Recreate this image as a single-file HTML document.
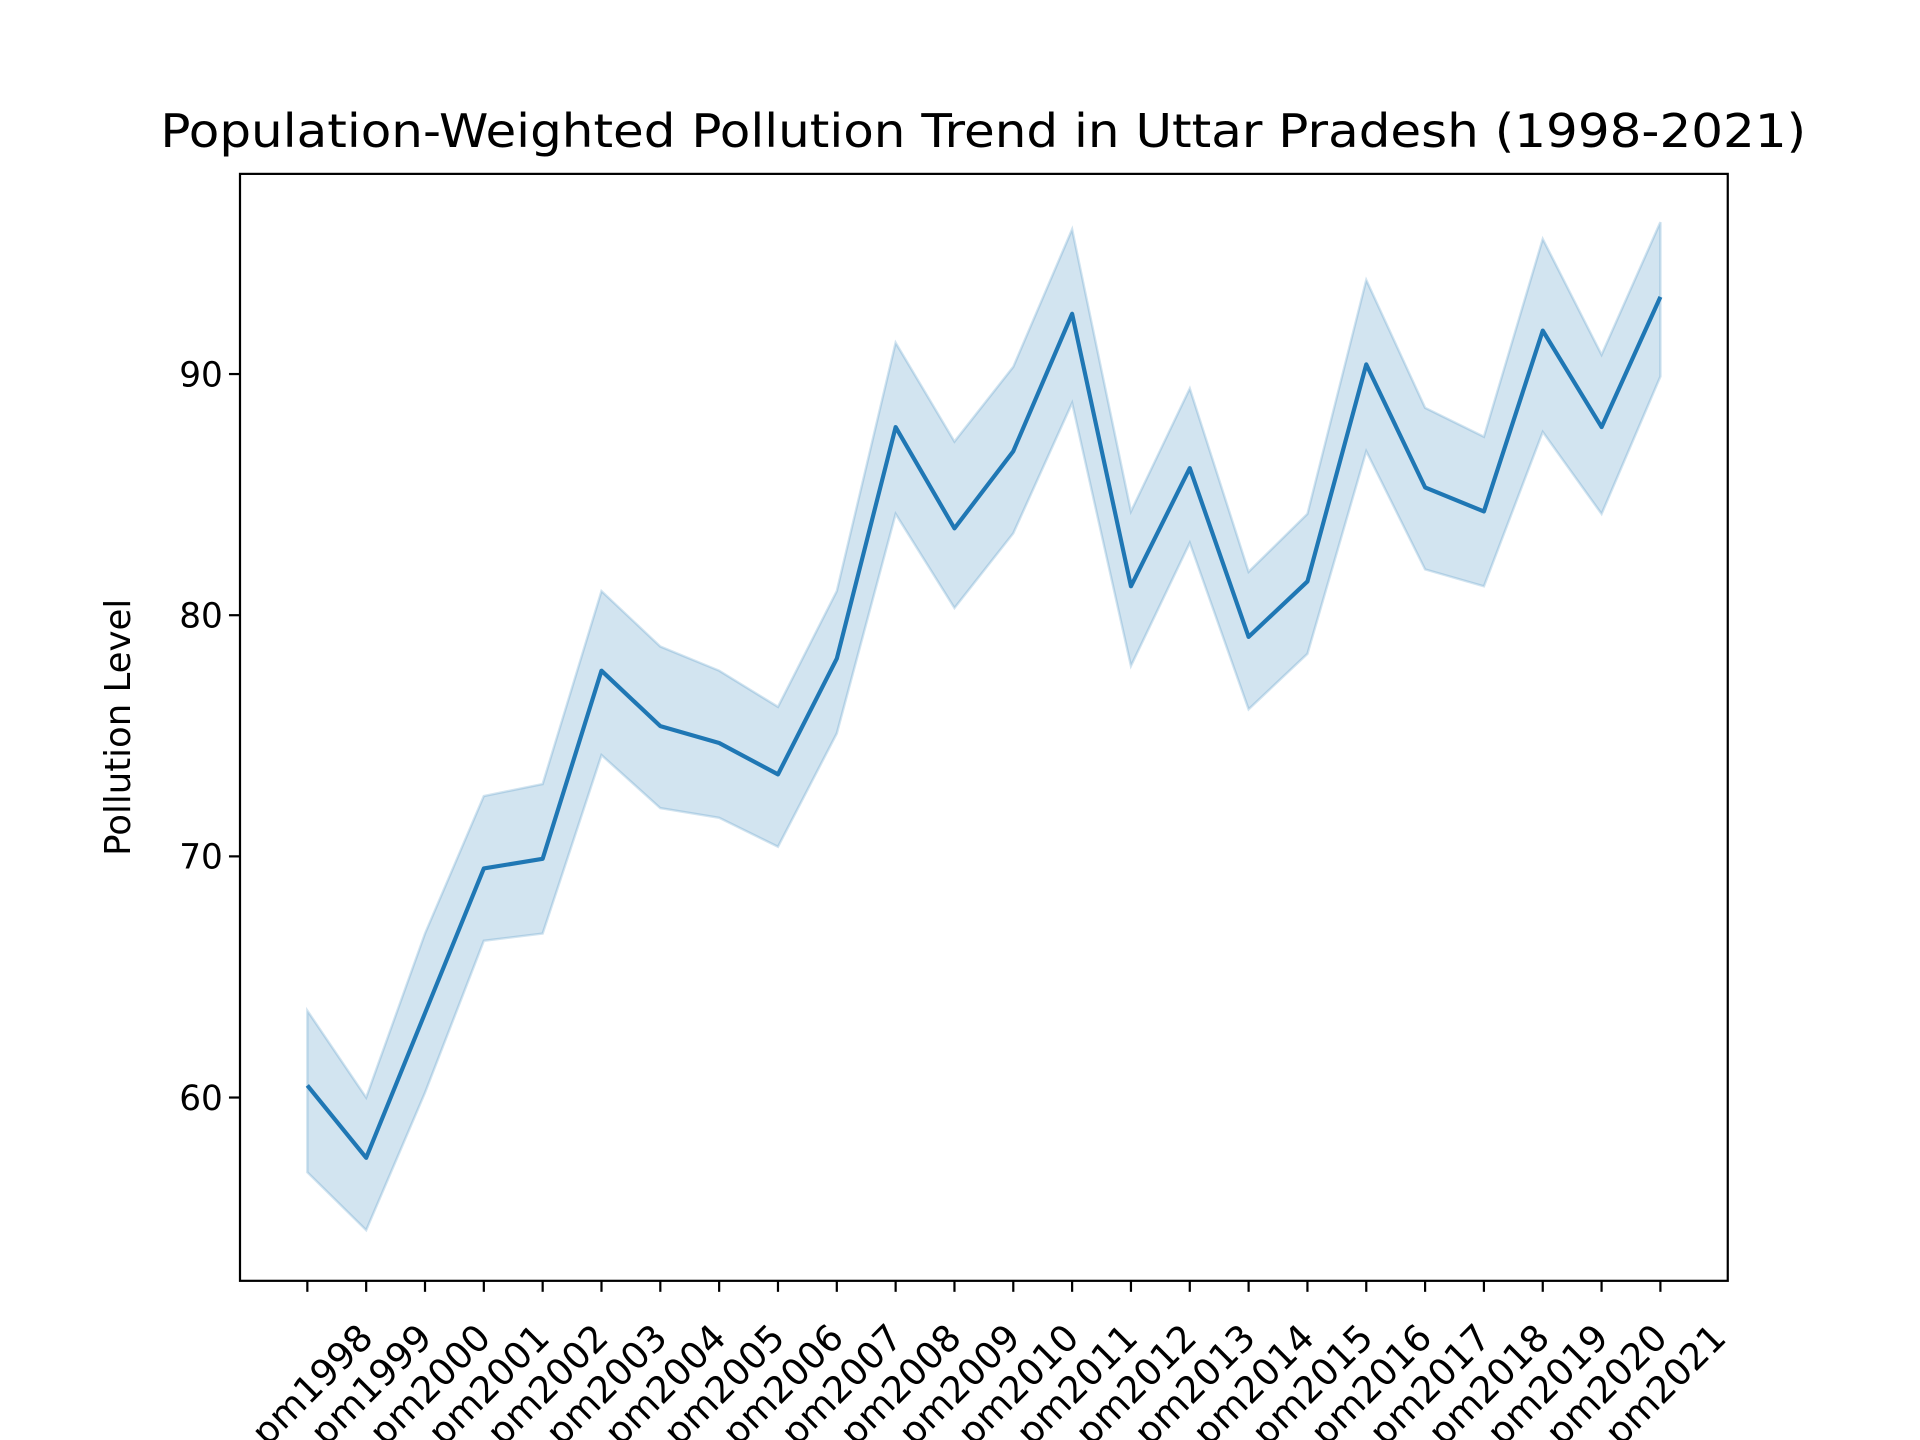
<!DOCTYPE html>
<html><head><meta charset="utf-8"><style>
html,body{margin:0;padding:0;background:#fff;}
svg{display:block;font-family:"DejaVu Sans","Liberation Sans",sans-serif;}
</style></head><body>
<svg id="chart" width="1920" height="1440" viewBox="0 0 1568 1176" preserveAspectRatio="none" xmlns="http://www.w3.org/2000/svg">
<rect width="1568" height="1176" fill="#fff"/>
<text x="803" y="120" font-size="37.5" text-anchor="middle" fill="#000" textLength="1344" lengthAdjust="spacingAndGlyphs">Population-Weighted Pollution Trend in Uttar Pradesh (1998-2021)</text>
<text x="0" y="0" font-size="29" text-anchor="middle" fill="#000" transform="translate(106,594) rotate(-90)">Pollution Level</text>
<g id="plot"></g>
</svg>
<script>
const categories = ["pm1998","pm1999","pm2000","pm2001","pm2002","pm2003","pm2004","pm2005","pm2006","pm2007","pm2008","pm2009","pm2010","pm2011","pm2012","pm2013","pm2014","pm2015","pm2016","pm2017","pm2018","pm2019","pm2020","pm2021"];
const meanValues = [60.5,57.5,63.5,69.5,69.9,77.7,75.4,74.7,73.4,78.2,87.8,83.6,86.8,92.5,81.2,86.1,79.1,81.4,90.4,85.3,84.3,91.8,87.8,93.2];
const upperValues = [63.6,60.0,66.8,72.5,73.0,81.0,78.7,77.7,76.2,81.0,91.3,87.2,90.3,96.0,84.3,89.4,81.8,84.2,93.9,88.6,87.4,95.6,90.8,96.3];
const lowerValues = [56.9,54.5,60.2,66.5,66.8,74.2,72.0,71.6,70.4,75.1,84.2,80.3,83.4,88.8,77.9,83.0,76.1,78.4,86.8,81.9,81.2,87.6,84.2,89.9];
const yTicks = [60,70,80,90];

const NS = "http://www.w3.org/2000/svg";
const L=196,R=1411,T=142,B=1046;
const yMin=52.4,yMax=98.3;
const x0=251,x1=1356;
function xs(i){return x0+(x1-x0)*i/(categories.length-1);}
function ys(v){return B-(v-yMin)/(yMax-yMin)*(B-T);}
const g=document.getElementById('plot');
function mk(tag,attrs){const e=document.createElementNS(NS,tag);for(const k in attrs)e.setAttribute(k,attrs[k]);g.appendChild(e);return e;}

let d="";
upperValues.forEach((v,i)=>{d+=(i?"L":"M")+xs(i)+","+ys(v);});
for(let i=lowerValues.length-1;i>=0;i--){d+="L"+xs(i)+","+ys(lowerValues[i]);}
d+="Z";
const band=mk('path',{d:d,fill:'#1f77b4','fill-opacity':0.2,stroke:'#1f77b4','stroke-opacity':0.2,'stroke-width':2});



const pts=meanValues.map((v,i)=>xs(i)+","+ys(v)).join(" ");
const line=mk('polyline',{points:pts,fill:'none',stroke:'#1f77b4','stroke-width':3.4,'stroke-linejoin':'round'});



const frame=mk('rect',{x:L,y:T,width:R-L,height:B-T,fill:'none',stroke:'#000','stroke-width':1.8});



yTicks.forEach(v=>{
  const t=mk('line',{x1:L-9,x2:L,y1:ys(v),y2:ys(v),stroke:'#000','stroke-width':1.8});
  
  
  const tx=mk('text',{x:L-14,y:ys(v)+10,'font-size':28,'text-anchor':'end',fill:'#000'});
  tx.textContent=v;
  
  
});
categories.forEach((c,i)=>{
  const x=xs(i);
  const t=mk('line',{x1:x,x2:x,y1:B,y2:B+9,stroke:'#000','stroke-width':1.8});
  
  
  const tx=mk('text',{x:0,y:0,'font-size':30,'text-anchor':'middle','dominant-baseline':'central',fill:'#000',transform:'translate('+(x+4)+','+(B+85)+') rotate(-45)'});
  tx.textContent=c;
  
  
});
</script>
</body></html>
